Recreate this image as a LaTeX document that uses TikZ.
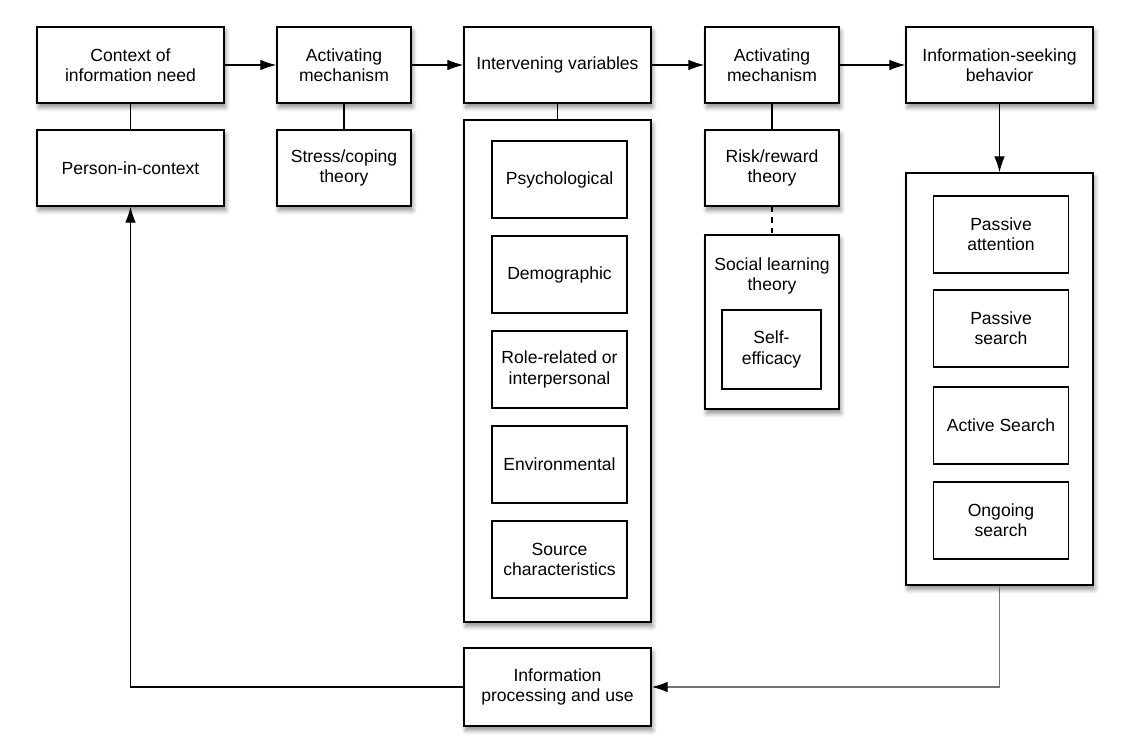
\documentclass[tikz,border=0pt]{standalone}
\usepackage{fontspec}
\setmainfont{Liberation Sans}
\usetikzlibrary{arrows.meta,shadows.blur}

\begin{document}
\begin{tikzpicture}[x=0.02cm, y=-0.02cm,
    stage/.style ={rectangle, draw, line width=0.9pt, fill=white,
      minimum width=3.74cm, minimum height=1.52cm, align=center,
      font=\fontsize{10}{11.5}\selectfont,
      blur shadow={shadow xshift=1pt, shadow yshift=-2.5pt,
        shadow blur radius=2.5pt, shadow blur steps=6, shadow opacity=45}},
    theory/.style ={stage, minimum width=2.68cm},
    factor/.style ={rectangle, draw, line width=0.7pt, fill=white,
      minimum width=2.7cm, minimum height=1.54cm, align=center,
      font=\fontsize{10}{11.5}\selectfont},
    link/.style ={line width=0.6pt},
    flow/.style ={link, -{Latex[length=9pt,width=6pt,color=black]}}]
   \useasboundingbox (0,0) rectangle (1138,736);
   % top row
   \node[stage] (context) at (130.5,65) {Context of\\information need};
   \node[stage] (person) at (130.5,168) {Person-in-context};
   \node[theory] (act1) at (344,65) {Activating\\mechanism};
   \node[theory] (stress) at (344,168) {Stress/coping\\theory};
   \node[stage] (interv) at (557.5,65) {Intervening variables};
   \node[theory] (act2) at (772,65) {Activating\\mechanism};
   \node[theory] (risk) at (772,168) {Risk/reward\\theory};
   \node[stage] (seek) at (999.5,65) {Information-seeking\\behavior};
   % intervening variables
   \node[stage, minimum height=10.04cm] (vargroup) at (557.5,371) {};
   \node[factor] (psych) at (559.5,179.5) {Psychological};
   \node[factor] (demo) at (559.5,274.5) {Demographic};
   \node[factor] (role) at (559.5,369.5) {Role-related or\\interpersonal};
   \node[factor] (env) at (559.5,464.5) {Environmental};
   \node[factor] (source) at (559.5,559.5) {Source\\characteristics};
   % social learning
   \node[theory, minimum height=3.48cm] (social) at (772,322) {};
   \node[align=center, font=\fontsize{10}{11.5}\selectfont] (socialtitle) at (772,276) {Social learning\\theory};
   \node[factor, minimum width=1.98cm, minimum height=1.58cm] (self) at (771.5,349.5) {Self-\\efficacy};
   % search modes
   \node[stage, minimum height=8.24cm] (searchgroup) at (999.5,379) {};
   \node[factor] (attention) at (1001,234.5) {Passive\\attention};
   \node[factor] (passive) at (1001,328.5) {Passive\\search};
   \node[factor] (active) at (1001,425.5) {Active Search};
   \node[factor] (ongoing) at (1001,520.5) {Ongoing\\search};
   % feedback
   \node[stage, minimum height=1.56cm] (use) at (557.5,687) {Information\\processing and use};
   % connectors
   \draw[flow] (context) -- (act1);
   \draw[flow] (act1) -- (interv);
   \draw[flow] (interv) -- (act2);
   \draw[flow] (act2) -- (seek);
   \draw[link] (context) -- (person);
   \draw[link] (act1) -- (stress);
   \draw[link] (interv) -- (vargroup);
   \draw[link] (act2) -- (risk);
   \draw[link, dashed] (risk) -- (social);
   \draw[flow] (seek) -- (searchgroup);
   \draw[flow, black!55] (searchgroup.south) |- (use.east);
   \draw[flow] (use.west) -| (person.south);
\end{tikzpicture}
\end{document}
